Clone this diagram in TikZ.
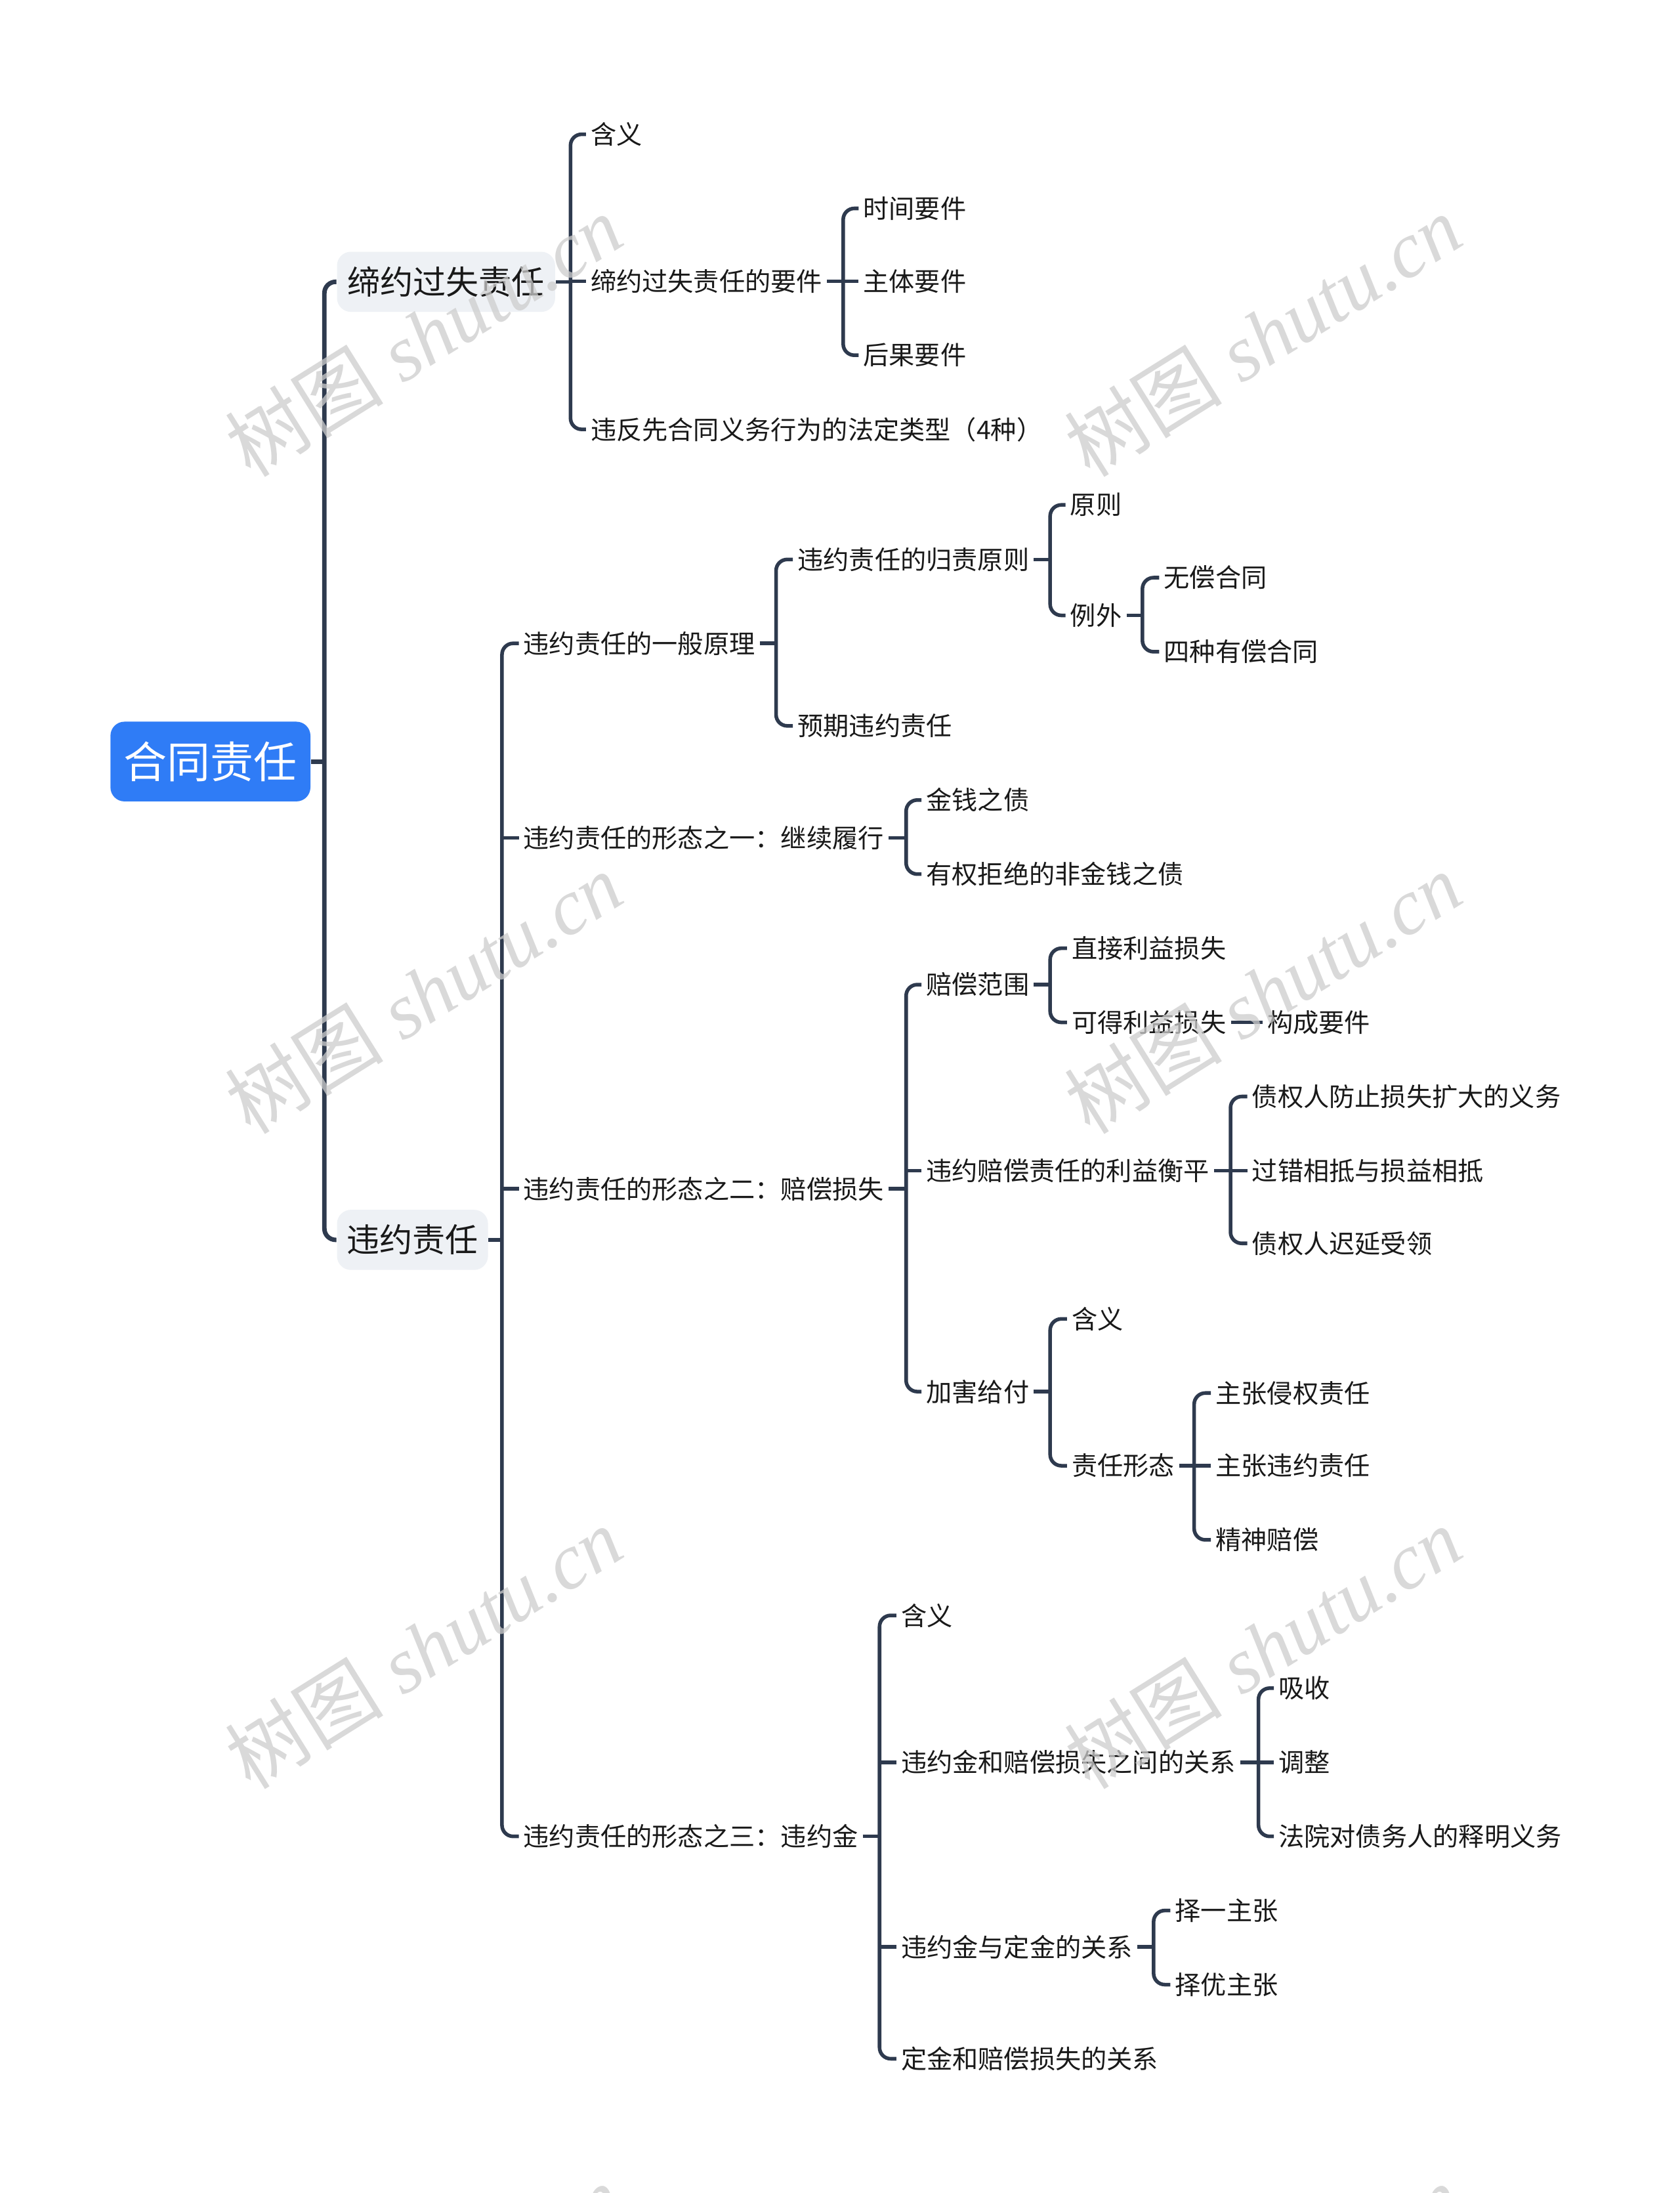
\documentclass[tikz,border=0pt]{standalone}
\usepackage{fontspec}
\setmainfont{Liberation Serif}
\newfontfamily\cjk{Noto Sans CJK SC}
\newfontfamily\wmlat{Liberation Serif}
\definecolor{linec}{RGB}{46,58,78}
\definecolor{txt}{RGB}{25,25,25}
\definecolor{rootblue}{RGB}{47,124,246}
\definecolor{lonegray}{RGB}{238,241,245}
\definecolor{wmgray}{RGB}{205,205,205}
\begin{document}
\begin{tikzpicture}[x=0.5pt,y=-0.5pt,
  conn/.style={draw=linec, line width=1.3pt, rounded corners=4pt},
  trunk/.style={draw=linec, line width=1.6pt, rounded corners=4pt},
  leaf/.style={anchor=west, inner xsep=1.5pt, inner ysep=0pt, text=txt, font=\cjk\fontsize{9.2}{11}\selectfont},
  rootbox/.style={fill=rootblue, text=white, rounded corners=5pt, inner sep=0pt, minimum width=71.5pt, minimum height=28.5pt, font=\cjk\fontsize{15.5}{18}\selectfont},
  lonebox/.style={fill=lonegray, text=txt, rounded corners=5pt, inner sep=0pt, minimum height=21.5pt, font=\cjk\fontsize{11.75}{14}\selectfont},
  wm/.style={text=wmgray, opacity=0.75, rotate=32, inner sep=0pt, font=\fontsize{28.3}{30}\selectfont}
]
\clip (0,0) rectangle (1201,1568);
\fill[white] (0,0) rectangle (1201,1568);
\useasboundingbox (0,0) rectangle (1201,1568);

% ---- nodes ----
\node[rootbox] (root) at (150.5,544.5) {合同责任};
\node[lonebox, minimum width=78pt] (n1) at (319,201.5) {缔约过失责任};
\node[lonebox, minimum width=54pt] (n2) at (295,886.5) {违约责任};

\node[leaf] (a1) at (419,96) {含义};
\node[leaf] (a2) at (419,201) {缔约过失责任的要件};
\node[leaf] (a3) at (419,307) {违反先合同义务行为的法定类型（4种）};
\node[leaf] (b1) at (614,149) {时间要件};
\node[leaf] (b2) at (614,201) {主体要件};
\node[leaf] (b3) at (614,254) {后果要件};

\node[leaf] (c1) at (371,460) {违约责任的一般原理};
\node[leaf] (c2) at (371,599) {违约责任的形态之一：继续履行};
\node[leaf] (c3) at (371,850) {违约责任的形态之二：赔偿损失};
\node[leaf] (c4) at (371,1313) {违约责任的形态之三：违约金};

\node[leaf] (d1) at (567,400) {违约责任的归责原则};
\node[leaf] (d2) at (567,519) {预期违约责任};
\node[leaf] (e1) at (762,361) {原则};
\node[leaf] (e2) at (762,440) {例外};
\node[leaf] (f1) at (829,413) {无偿合同};
\node[leaf] (f2) at (829,466) {四种有偿合同};

\node[leaf] (g1) at (659,572) {金钱之债};
\node[leaf] (g2) at (659,625) {有权拒绝的非金钱之债};

\node[leaf] (h1) at (659,704) {赔偿范围};
\node[leaf] (h2) at (659,837) {违约赔偿责任的利益衡平};
\node[leaf] (h3) at (659,995) {加害给付};
\node[leaf] (i1) at (763,678) {直接利益损失};
\node[leaf] (i2) at (763,731) {可得利益损失};
\node[leaf] (i3) at (903,731) {构成要件};
\node[leaf] (k1) at (892,784) {债权人防止损失扩大的义务};
\node[leaf] (k2) at (892,837) {过错相抵与损益相抵};
\node[leaf] (k3) at (892,889) {债权人迟延受领};
\node[leaf] (l1) at (763,943) {含义};
\node[leaf] (l2) at (763,1048) {责任形态};
\node[leaf] (m1) at (866,996) {主张侵权责任};
\node[leaf] (m2) at (866,1048) {主张违约责任};
\node[leaf] (m3) at (866,1101) {精神赔偿};

\node[leaf] (p1) at (641,1155) {含义};
\node[leaf] (p2) at (641,1260) {违约金和赔偿损失之间的关系};
\node[leaf] (p3) at (641,1392) {违约金与定金的关系};
\node[leaf] (p4) at (641,1472) {定金和赔偿损失的关系};
\node[leaf] (q1) at (911,1207) {吸收};
\node[leaf] (q2) at (911,1260) {调整};
\node[leaf] (q3) at (911,1313) {法院对债务人的释明义务};
\node[leaf] (r1) at (837,1366) {择一主张};
\node[leaf] (r2) at (837,1419) {择优主张};

% ---- junctions ----
\coordinate (j0) at (232,544.5);
\coordinate (ja) at (408,201.5);
\coordinate (jb) at (603,201);
\coordinate (jc) at (359,886.5);
\coordinate (jd) at (555,460);
\coordinate (je) at (751,400);
\coordinate (jf) at (817,440);
\coordinate (jg) at (648,599);
\coordinate (jh) at (648,850);
\coordinate (ji) at (751,704);
\coordinate (jk) at (880,837);
\coordinate (jl) at (751,995);
\coordinate (jm) at (854,1048);
\coordinate (jp) at (629,1313);
\coordinate (jq) at (900,1260);
\coordinate (jr) at (825,1392);

% ---- connectors ----
\draw[trunk] (root.east) -- (j0);
\draw[trunk] (n1.west) -| (j0) |- (n2.west);

\draw[conn] (n1.east) -- (ja);
\draw[conn] (a1.west) -| (ja) |- (a3.west);
\draw[conn] (ja |- a2.west) -- (a2.west);

\draw[conn] (a2.east) -- (jb);
\draw[conn] (b1.west) -| (jb) |- (b3.west);
\draw[conn] (jb |- b2.west) -- (b2.west);

\draw[conn] (n2.east) -- (jc);
\draw[conn] (c1.west) -| (jc) |- (c4.west);
\draw[conn] (jc |- c2.west) -- (c2.west);
\draw[conn] (jc |- c3.west) -- (c3.west);

\draw[conn] (c1.east) -- (jd);
\draw[conn] (d1.west) -| (jd) |- (d2.west);
\draw[conn] (d1.east) -- (je);
\draw[conn] (e1.west) -| (je) |- (e2.west);
\draw[conn] (e2.east) -- (jf);
\draw[conn] (f1.west) -| (jf) |- (f2.west);

\draw[conn] (c2.east) -- (jg);
\draw[conn] (g1.west) -| (jg) |- (g2.west);

\draw[conn] (c3.east) -- (jh);
\draw[conn] (h1.west) -| (jh) |- (h3.west);
\draw[conn] (jh |- h2.west) -- (h2.west);
\draw[conn] (h1.east) -- (ji);
\draw[conn] (i1.west) -| (ji) |- (i2.west);
\draw[conn] (i2.east) -- (i3.west);
\draw[conn] (h2.east) -- (jk);
\draw[conn] (k1.west) -| (jk) |- (k3.west);
\draw[conn] (jk |- k2.west) -- (k2.west);
\draw[conn] (h3.east) -- (jl);
\draw[conn] (l1.west) -| (jl) |- (l2.west);
\draw[conn] (l2.east) -- (jm);
\draw[conn] (m1.west) -| (jm) |- (m3.west);
\draw[conn] (jm |- m2.west) -- (m2.west);

\draw[conn] (c4.east) -- (jp);
\draw[conn] (p1.west) -| (jp) |- (p4.west);
\draw[conn] (jp |- p2.west) -- (p2.west);
\draw[conn] (jp |- p3.west) -- (p3.west);
\draw[conn] (p2.east) -- (jq);
\draw[conn] (q1.west) -| (jq) |- (q3.west);
\draw[conn] (jq |- q2.west) -- (q2.west);
\draw[conn] (p3.east) -- (jr);
\draw[conn] (r1.west) -| (jr) |- (r2.west);

% ---- watermarks ----
\foreach \wx/\wy [count=\wi] in {303/240, 903/240, 303/710, 903/710, 303/1178, 903/1178, 303/1648, 903/1648}{
  \node[wm] (wm\wi) at (\wx,\wy) {{\cjk 树图} {\wmlat\itshape shutu.cn}};
}
\end{tikzpicture}
\end{document}
